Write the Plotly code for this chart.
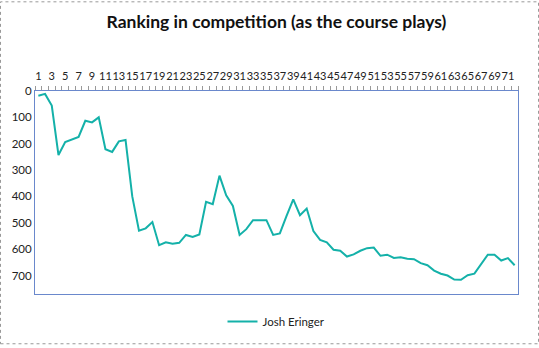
import plotly.graph_objects as go

rounds = list(range(1, 73))
ranking = [18, 11, 55, 243, 194, 184, 174, 113, 119, 100,
           221, 231, 191, 186, 400, 530, 521, 497, 585, 574,
           579, 576, 546, 554, 544, 420, 429, 321, 396, 436,
           546, 524, 490, 490, 490, 546, 540, 474, 411, 471,
           446, 531, 565, 574, 602, 606, 628, 620, 606, 596,
           594, 625, 621, 633, 631, 636, 638, 653, 661, 681,
           693, 700, 715, 716, 699, 693, 659, 621, 621, 643,
           634, 661]
x_tickvals = list(range(1, 73, 2))
x_ticktext = [str(v) for v in x_tickvals]
y_tickvals = [0, 100, 200, 300, 400, 500, 600, 700]
series_name = "Josh Eringer"

W, H = 539, 348
L, R, T, B = 35, 21, 91, 51
pw, ph = W - L - R, H - T - B

fig = go.Figure()
fig.add_trace(go.Scatter(
    x=rounds, y=ranking, mode="lines", name=series_name,
    line=dict(color="#14B1A9", width=2),
))

fig.update_layout(
    width=W, height=H,
    margin=dict(l=L, r=R, t=T, b=B),
    paper_bgcolor="white", plot_bgcolor="white",
    font=dict(family="Lato, Calibri, sans-serif", size=11, color="#222"),
    title=dict(text="<b>Ranking in competition (as the course plays)</b>",
               x=0.5, xref="paper", xanchor="center", y=1 - 22 / H, yanchor="middle",
               font=dict(family="Lato, sans-serif", size=17.5, color="#111")),
    showlegend=True,
    legend=dict(orientation="h", x=0.5, xanchor="center", y=-28 / ph, yanchor="middle",
                font=dict(size=11.5, color="#222"), bgcolor="rgba(0,0,0,0)",
                itemwidth=30),
    xaxis=dict(
        side="top", range=[0.5, 72.5], tickvals=x_tickvals, ticktext=x_ticktext,
        tickangle=0, ticks="", showgrid=False, zeroline=False,
        showline=True, linecolor="#6A88CC", linewidth=1, mirror=True,
        tickfont=dict(size=11, color="#222"), ticklabelstandoff=6,
        minor=dict(ticks="outside", tick0=0.5, dtick=1, ticklen=4, tickcolor="#999", showgrid=False),
    ),
    yaxis=dict(
        range=[770, 0], tickvals=y_tickvals, ticks="", showgrid=False, zeroline=False,
        showline=True, linecolor="#6A88CC", linewidth=1, mirror=True,
        tickfont=dict(size=11.5, color="#222"),
    ),
)

fig.add_shape(type="rect", xref="paper", yref="paper",
              x0=-(L - 0.5) / pw, x1=1 + (R - 0.5) / pw,
              y0=-(B - 0.5) / ph, y1=1 + (T - 0.5) / ph,
              line=dict(color="#999", width=1, dash="dot"), layer="below")

fig.write_html("out.html")
